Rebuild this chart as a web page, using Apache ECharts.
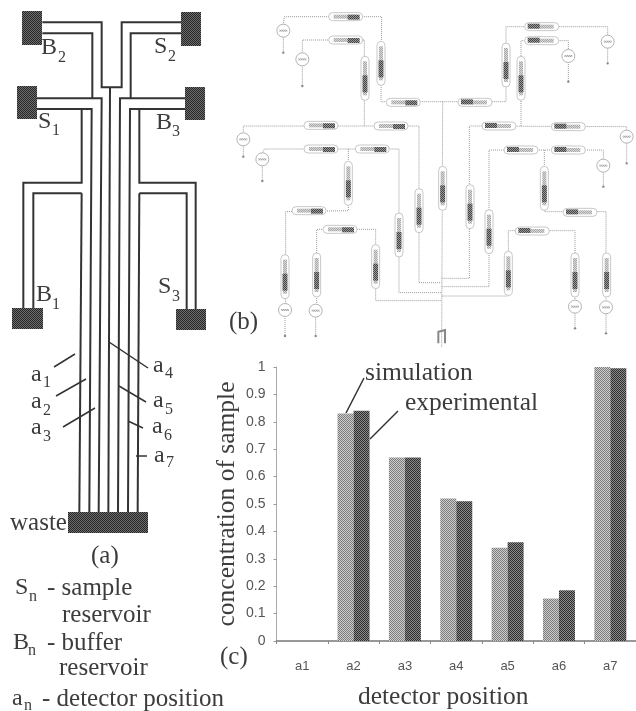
<!DOCTYPE html>
<html>
<head>
<meta charset="utf-8">
<title>detector concentration</title>
<style>
  html, body { margin: 0; padding: 0; background: #fff; }
  #chart { width: 636px; height: 711px; }
</style>
<script src="https://cdn.jsdelivr.net/npm/echarts@6/dist/echarts.min.js"></script>
</head>
<body>
<div id="chart"></div>
<script>
const categories = ['a1', 'a2', 'a3', 'a4', 'a5', 'a6', 'a7'];
const simulation = [0, 0.83, 0.67, 0.52, 0.34, 0.155, 1];
const experimental = [0, 0.84, 0.67, 0.51, 0.36, 0.185, 0.995];

const SERIF = '"Liberation Serif", serif';
const INK = '#3c3c3c';
const els = [];

// the scan is dithered, so fills are a 2px checker
function checker(a, b) {
  const c = document.createElement('canvas');
  c.width = 2;
  c.height = 2;
  const g = c.getContext('2d');
  g.fillStyle = a;
  g.fillRect(0, 0, 2, 2);
  g.fillStyle = b;
  g.fillRect(0, 0, 1, 1);
  g.fillRect(1, 1, 1, 1);
  return { image: c, repeat: 'repeat' };
}

function line(pts, color, width, dash) {
  els.push({
    type: 'polyline',
    silent: true,
    shape: { points: pts },
    style: { stroke: color, lineWidth: width, fill: null, lineDash: dash || null }
  });
}
function box(x0, y0, x1, y1, fill) {
  els.push({ type: 'rect', silent: true, shape: { x: x0, y: y0, width: x1 - x0, height: y1 - y0 }, style: { fill: fill } });
}
function text(str, x, y, size, extra) {
  els.push(Object.assign({
    type: 'text',
    silent: true,
    x: x,
    y: y,
    style: { text: str, font: size + 'px ' + SERIF, fill: INK, align: 'left', verticalAlign: 'middle' }
  }, extra || {}));
}
// letter with a small subscript
function sub(a, b, x, y, dx, dy) {
  text(a, x, y, 24);
  text(b, x + dx, y + dy, 16);
}

/* ---------- (a) channel layout ---------- */
const chan = '#333';
const z3 = pts => pts.map(p => [p[0] / 3, p[1] / 3]);
const channels = [
  [[127, 67], [305, 67], [305, 262], [365, 262], [365, 67], [543, 67]],
  [[127, 100], [277, 100], [277, 295]],
  [[543, 100], [392, 100], [392, 295]],
  [[110, 295], [305, 295], [296, 1536]],
  [[555, 295], [360, 295], [354, 1536]],
  [[110, 327], [275, 327], [268, 1536]],
  [[555, 327], [390, 327], [384, 1536]],
  [[245, 327], [245, 548], [70, 548], [70, 925]],
  [[245, 580], [100, 580], [100, 925]],
  [[245, 580], [238, 1536]],
  [[418, 327], [418, 548], [587, 548], [587, 928]],
  [[418, 580], [560, 580], [560, 928]],
  [[418, 580], [413, 1536]],
  [[330, 262], [325, 1536]]
];
channels.forEach(c => line(z3(c), chan, 2));

const pads = checker('#6e6e6e', '#262626');
box(22, 11, 42, 45, pads);
box(181, 12, 201, 46, pads);
box(17, 86, 37, 119, pads);
box(185, 87, 205, 120, pads);
box(12, 308, 43, 329, pads);
box(176, 309, 206, 330, pads);
box(68, 512, 148, 533, pads);

const leaders = [
  [[54, 367], [75, 354]], [[56, 396], [86, 379]], [[63, 427], [95, 408]],
  [[109, 342], [148, 368]], [[119, 386], [146, 402]], [[128, 421], [143, 428]],
  [[136, 456], [147, 456]]
];
leaders.forEach(l => line(l, '#333', 1.5));

sub('B', '2', 41, 48, 17, 10);
sub('S', '2', 154, 47, 14, 10);
sub('S', '1', 38, 122, 14, 9);
sub('B', '3', 156, 123, 16, 9);
sub('B', '1', 36, 295, 16, 10);
sub('S', '3', 158, 287, 14, 10);

sub('a', '1', 31, 375, 12, 8);
sub('a', '2', 31, 402, 12, 9);
sub('a', '3', 31, 428, 12, 9);
sub('a', '4', 153, 366, 12, 8);
sub('a', '5', 153, 401, 12, 9);
sub('a', '6', 152, 427, 12, 9);
sub('a', '7', 154, 456, 12, 7);

text('waste', 10, 523, 25);
text('(a)', 91, 556, 25);
sub('S', 'n', 15, 588, 14, 9);
text('- sample', 47, 588, 25);
text('reservoir', 62, 615, 25);
sub('B', 'n', 13, 643, 15, 8);
text('- buffer', 47, 643, 25);
text('reservoir', 59, 668, 25);
sub('a', 'n', 12, 699, 12, 7);
text('- detector position', 42, 699, 25);

/* ---------- (b) circuit ---------- */
const wire = '#999';
const zb = pts => pts.map(p => [225 + p[0] / 3, p[1] / 3]);
const wires = [
  [[175, 75], [178, 50], [470, 50], [468, 305], [843, 305], [843, 80], [1148, 80], [1148, 105]],
  [[232, 160], [232, 120], [418, 120], [418, 378]],
  [[55, 395], [55, 378], [582, 378], [582, 848], [650, 848]],
  [[650, 835], [733, 835], [733, 378], [1205, 380], [1205, 395]],
  [[888, 378], [888, 122], [1030, 122], [1030, 150]],
  [[112, 460], [118, 447], [522, 447], [522, 878], [650, 878]],
  [[650, 860], [792, 860], [792, 450], [1135, 450], [1135, 478]],
  [[370, 447], [370, 632], [182, 635], [182, 915]],
  [[958, 450], [958, 635], [1143, 635], [1143, 900]],
  [[275, 915], [275, 688], [452, 688], [452, 902], [650, 902]],
  [[650, 888], [850, 888], [850, 692], [1050, 692], [1050, 900]],
  [[653, 305], [650, 1040]]
];
wires.forEach(w => line(zb(w), wire, 1, [1, 1]));

const patchLight = checker('#d8d8d8', '#a8a8a8');
const patchDark = checker('#999', '#444');
const resistorsH = [
  [362, 50], [362, 120], [535, 307], [750, 307], [950, 80], [950, 122],
  [288, 376], [498, 378], [822, 378], [1030, 380], [288, 447], [442, 447],
  [888, 450], [1030, 450], [252, 632], [345, 688], [1065, 637], [922, 693]
];
const resistorsV = [
  [468, 190], [420, 235], [843, 195], [888, 235], [370, 550], [582, 632],
  [522, 705], [653, 565], [735, 620], [792, 695], [958, 565], [452, 800],
  [850, 820], [180, 830], [275, 825], [1050, 825], [1145, 825]
];
resistorsH.forEach(r => {
  const cx = 225 + r[0] / 3, cy = r[1] / 3;
  els.push({ type: 'rect', silent: true, shape: { x: cx - 17, y: cy - 4, width: 34, height: 8, r: 4 }, style: { fill: '#fff', stroke: '#c8c8c8', lineWidth: 1 } });
  box(cx - 12, cy - 2, cx + 12, cy + 2, patchLight);
  if (r[0] < 650) box(cx + 2, cy - 2, cx + 14, cy + 3, patchDark);
  else box(cx - 14, cy - 3, cx - 2, cy + 2, patchDark);
});
resistorsV.forEach(r => {
  const cx = 225 + r[0] / 3, cy = r[1] / 3;
  els.push({ type: 'rect', silent: true, shape: { x: cx - 4, y: cy - 22, width: 8, height: 44, r: 4 }, style: { fill: '#fff', stroke: '#c8c8c8', lineWidth: 1 } });
  box(cx - 2, cy - 17, cx + 2, cy + 17, patchLight);
  box(cx - 2.5, cy - 3, cx + 2.5, cy + 14, patchDark);
});

// [circle x, circle y, ground y]
const sources = [
  [175, 92, 158], [232, 178, 258], [1148, 125, 190], [1030, 168, 245],
  [55, 418, 470], [112, 478, 543], [1205, 410, 490], [1135, 497, 560],
  [180, 930, 1008], [272, 932, 1008], [1050, 920, 985], [1143, 922, 1000]
];
sources.forEach(s => {
  const cx = 225 + s[0] / 3, cy = s[1] / 3, gy = s[2] / 3;
  line([[cx, cy + 6], [cx, gy]], wire, 1, [1, 1]);
  els.push({ type: 'circle', silent: true, shape: { cx: cx, cy: cy, r: 6.5 }, style: { fill: '#fff', stroke: '#b4b4b4', lineWidth: 1 } });
  box(cx - 4, cy - 1, cx + 4, cy + 1, patchLight);
  els.push({ type: 'circle', silent: true, shape: { cx: cx, cy: gy, r: 1.2 }, style: { fill: '#888' } });
});
line(zb([[640, 1030], [640, 995], [660, 990], [660, 1030]]), '#888', 2);
text('(b)', 229, 322, 25);

/* ---------- (c) labels ---------- */
text('simulation', 365, 373, 25.5);
text('experimental', 405, 403, 25.5);
line([[346, 413], [364, 378]], '#333', 1.5);
line([[370, 439], [398, 411]], '#333', 1.5);
text('(c)', 220, 657, 25);

const chart = echarts.init(document.getElementById('chart'), null, { renderer: 'canvas' });
chart.setOption({
  backgroundColor: '#fff',
  animation: false,
  grid: { left: 276.5, top: 367, width: 362, height: 274.7, containLabel: false },
  xAxis: {
    type: 'category',
    data: categories,
    name: 'detector position',
    nameLocation: 'middle',
    nameGap: 43,
    nameTextStyle: { fontFamily: SERIF, fontSize: 25.5, color: INK, padding: [0, 26, 0, 0] },
    axisLine: { lineStyle: { color: '#777', width: 1.5 } },
    axisTick: { show: true, length: 3, lineStyle: { color: '#888' } },
    axisLabel: { fontFamily: '"Liberation Sans", sans-serif', fontSize: 13, color: '#555', margin: 19 }
  },
  yAxis: {
    type: 'value',
    min: 0,
    max: 1,
    interval: 0.1,
    name: 'concentration of sample',
    nameLocation: 'middle',
    nameGap: 36,
    nameMoveOverlap: false,
    nameTextStyle: { fontFamily: SERIF, fontSize: 25.5, color: INK },
    splitLine: { show: false },
    axisLine: { show: true, lineStyle: { color: '#aaa', width: 1 } },
    axisTick: { show: true, length: 3, lineStyle: { color: '#999' } },
    axisLabel: { fontFamily: '"Liberation Sans", sans-serif', fontSize: 14, color: '#555', margin: 11 }
  },
  series: [
    { name: 'simulation', type: 'bar', data: simulation, barWidth: 16, barGap: 0, itemStyle: { color: checker('#cfcfcf', '#7a7a7a') } },
    { name: 'experimental', type: 'bar', data: experimental, barWidth: 16, barGap: 0, itemStyle: { color: checker('#8a8a8a', '#2e2e2e') } }
  ],
  graphic: { elements: els }
});
</script>
</body>
</html>
